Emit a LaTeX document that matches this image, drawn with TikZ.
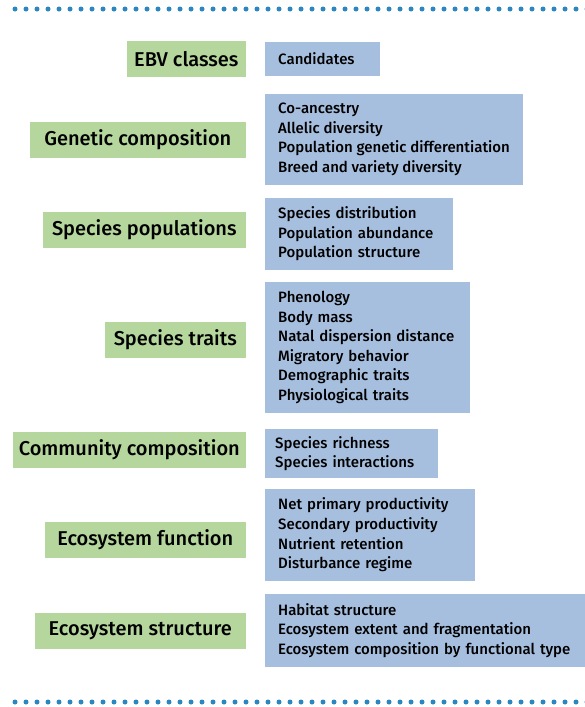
\documentclass[tikz,border=0pt]{standalone}
\usepackage{fontspec}
\setmainfont{Fira Sans}[UprightFont={Fira Sans Medium}]
\usetikzlibrary{positioning}
\definecolor{classgreen}{HTML}{B5D69C}
\definecolor{candblue}{HTML}{A7BFDF}
\definecolor{dotblue}{HTML}{2B87C0}

\begin{document}
\begin{tikzpicture}[x=1pt, y=-1pt,
    classbox/.style={rectangle, fill=classgreen, anchor=east, minimum height=36pt, inner xsep=3pt, font=\fontsize{20}{22}\selectfont},
    candbox/.style={rectangle, fill=candblue, anchor=west, align=left, inner xsep=13pt, inner ysep=9pt, font=\fontsize{15}{19.6}\selectfont},
    dotrow/.style={fill=dotblue}
]
    \useasboundingbox (0,0) rectangle (585,707);
    \clip (0,0) rectangle (585,707);

    % Dotted rules
    \foreach \x in {15,26,...,590} {
        \fill[dotrow] (\x,9) circle (2.5);
        \fill[dotrow] (\x,702) circle (2.5);
    }

    % EBV classes
    \node[classbox, minimum width=119pt] (hdr) at (246,59) {EBV classes};
    \node[classbox, minimum width=216pt] (gen) at (246,140) {Genetic composition};
    \node[classbox, minimum width=203pt] (pop) at (246,230) {Species populations};
    \node[classbox, minimum width=141pt] (trait) at (246,340) {Species traits};
    \node[classbox, minimum width=233pt] (comm) at (246,449.5) {Community composition};
    \node[classbox, minimum width=201pt] (func) at (246,540) {Ecosystem function};
    \node[classbox, minimum width=211pt] (struc) at (246,630.5) {Ecosystem structure};

    % Candidates
    \node[candbox, text width=89pt, minimum height=34pt, inner ysep=4pt] (hdrc) at (265,59) {Candidates};
    \node[candbox] (genc) at (265,139.5) {Co-ancestry\\Allelic diversity\\Population genetic differentiation\\Breed and variety diversity};
    \node[candbox, text width=162pt] (popc) at (265,234) {Species distribution\\Population abundance\\Population structure};
    \node[candbox, text width=179pt] (traitc) at (265,347.5) {Phenology\\Body mass\\Natal dispersion distance\\Migratory behavior\\Demographic traits\\Physiological traits};
    \node[candbox, text width=153pt, inner xsep=10pt, inner ysep=7pt] (commc) at (265,453.5) {Species richness\\Species interactions};
    \node[candbox, text width=184pt] (funcc) at (265,535) {Net primary productivity\\Secondary productivity\\Nutrient retention\\Disturbance regime};
    \node[candbox, text width=304pt] (strucc) at (265,630.5) {Habitat structure\\Ecosystem extent and fragmentation\\Ecosystem composition by functional type};
\end{tikzpicture}
\end{document}
